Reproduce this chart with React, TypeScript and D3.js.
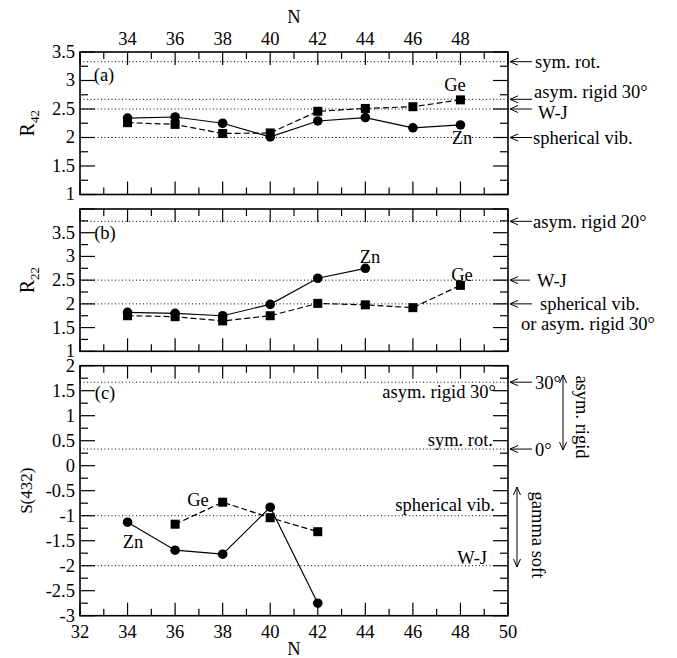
import * as d3 from "d3";

// N values
const nAll = [34, 36, 38, 40, 42, 44, 46, 48];
const nZnB = [34, 36, 38, 40, 42, 44];
const nZnC = [34, 36, 38, 40, 42];
const nGeC = [36, 38, 40, 42];

// panel (a) R42
const znR42 = [2.34, 2.36, 2.25, 2.01, 2.29, 2.35, 2.17, 2.22];
const geR42 = [2.26, 2.23, 2.07, 2.08, 2.46, 2.51, 2.54, 2.66];
// panel (b) R22
const znR22 = [1.82, 1.8, 1.75, 1.99, 2.54, 2.75];
const geR22 = [1.75, 1.73, 1.64, 1.75, 2.01, 1.98, 1.92, 2.39];
// panel (c) S(432)
const znS = [-1.13, -1.69, -1.77, -0.83, -2.75];
const geS = [-1.17, -0.73, -1.04, -1.32];

// reference (dotted) values
const refA = [3.33, 2.67, 2.5, 2.0];
const refB = [3.74, 2.5, 2.0];
const refC = [1.67, 0.333, -1, -2];

const ticksA = [1, 1.5, 2, 2.5, 3, 3.5];
const ticksB = [1, 1.5, 2, 2.5, 3, 3.5];
const ticksC = [-3, -2.5, -2, -1.5, -1, -0.5, 0, 0.5, 1, 1.5, 2];
const xTickLabelsTop = [34, 36, 38, 40, 42, 44, 46, 48];
const xTickLabelsBottom = [32, 34, 36, 38, 40, 42, 44, 46, 48, 50];

const W = 677;
const H = 658;
const FONT = "Liberation Serif, DejaVu Serif, serif";
const FS = 18.5;
const L = 80;
const R = 508;

const x = d3.scaleLinear().domain([32, 50]).range([L, R]);

type Panel = {
  y: d3.ScaleLinear<number, number>;
  top: number;
  bottom: number;
  lo: number;
  hi: number;
  ticks: number[];
};

const pA: Panel = { top: 52, bottom: 194.5, lo: 1, hi: 3.5, ticks: ticksA, y: d3.scaleLinear().domain([1, 3.5]).range([194.5, 52]) };
const pB: Panel = { top: 209, bottom: 351.3, lo: 1, hi: 4, ticks: ticksB, y: d3.scaleLinear().domain([1, 4]).range([351.3, 209]) };
const pC: Panel = { top: 365.7, bottom: 615.7, lo: -3, hi: 2, ticks: ticksC, y: d3.scaleLinear().domain([-3, 2]).range([615.7, 365.7]) };

function Frame({ p, refs }: { p: Panel; refs: number[] }) {
  const xMajor = d3.range(32, 51, 2);
  const xMinor = d3.range(33, 50, 2);
  const yMajor = d3.range(p.lo, p.hi + 0.001, 0.5);
  const yMinor = d3.range(p.lo + 0.25, p.hi, 0.5);
  return (
    <g>
      {refs.map((v, i) => (
        <line key={"r" + i} x1={L} x2={R} y1={p.y(v)} y2={p.y(v)} stroke="#000" strokeWidth={1} strokeDasharray="1,2.5" />
      ))}
      {xMajor.map((v) => (
        <g key={"xm" + v}>
          <line x1={x(v)} x2={x(v)} y1={p.bottom} y2={p.bottom - 13} stroke="#000" strokeWidth={1.2} />
          <line x1={x(v)} x2={x(v)} y1={p.top} y2={p.top + 13} stroke="#000" strokeWidth={1.2} />
        </g>
      ))}
      {xMinor.map((v) => (
        <g key={"xn" + v}>
          <line x1={x(v)} x2={x(v)} y1={p.bottom} y2={p.bottom - 7} stroke="#000" strokeWidth={1.2} />
          <line x1={x(v)} x2={x(v)} y1={p.top} y2={p.top + 7} stroke="#000" strokeWidth={1.2} />
        </g>
      ))}
      {yMajor.map((v) => (
        <g key={"ym" + v}>
          <line x1={L} x2={L + 15} y1={p.y(v)} y2={p.y(v)} stroke="#000" strokeWidth={1.2} />
          <line x1={R} x2={R - 15} y1={p.y(v)} y2={p.y(v)} stroke="#000" strokeWidth={1.2} />
        </g>
      ))}
      {yMinor.map((v) => (
        <g key={"yn" + v}>
          <line x1={L} x2={L + 8} y1={p.y(v)} y2={p.y(v)} stroke="#000" strokeWidth={1.2} />
          <line x1={R} x2={R - 8} y1={p.y(v)} y2={p.y(v)} stroke="#000" strokeWidth={1.2} />
        </g>
      ))}
      {p.ticks.map((v) => (
        <text key={"yl" + v} x={L - 5} y={p.y(v)} dy="0.32em" textAnchor="end" fontSize={FS}>
          {String(v)}
        </text>
      ))}
      <rect x={L} y={p.top} width={R - L} height={p.bottom - p.top} fill="none" stroke="#000" strokeWidth={1.6} />
    </g>
  );
}

function Series({ p, ns, vals, dashed }: { p: Panel; ns: number[]; vals: number[]; dashed: boolean }) {
  const pts: [number, number][] = ns.map((n, i) => [x(n), p.y(vals[i])]);
  const line = d3.line();
  return (
    <g>
      <path d={line(pts) || ""} fill="none" stroke="#000" strokeWidth={1.2} strokeDasharray={dashed ? "6,3" : undefined} />
      {pts.map(([px, py], i) =>
        dashed ? (
          <rect key={i} x={px - 4.5} y={py - 4.5} width={9} height={9} fill="#000" />
        ) : (
          <circle key={i} cx={px} cy={py} r={4.8} fill="#000" />
        )
      )}
    </g>
  );
}

function Arrow({ yv, x2 = 532 }: { yv: number; x2?: number }) {
  const x1 = R + 2;
  return (
    <g stroke="#000" strokeWidth={1} fill="none">
      <line x1={x1} x2={x2} y1={yv} y2={yv} />
      <path d={`M${x1 + 8},${yv - 3.5} L${x1},${yv} L${x1 + 8},${yv + 3.5}`} />
    </g>
  );
}

function VArrow({ xv, y1, y2 }: { xv: number; y1: number; y2: number }) {
  return (
    <g stroke="#000" strokeWidth={1} fill="none">
      <line x1={xv} x2={xv} y1={y1} y2={y2} />
      <path d={`M${xv - 3.5},${y1 + 8} L${xv},${y1} L${xv + 3.5},${y1 + 8}`} />
      <path d={`M${xv - 3.5},${y2 - 8} L${xv},${y2} L${xv + 3.5},${y2 - 8}`} />
    </g>
  );
}

export default function App() {
  return (
    <svg width={W} height={H} style={{ position: "absolute", left: 0, top: 0, background: "#fff", fontFamily: FONT }} fill="#000">
      {/* top axis labels */}
      {xTickLabelsTop.map((v) => (
        <text key={"t" + v} x={x(v)} y={45} textAnchor="middle" fontSize={FS}>
          {v}
        </text>
      ))}
      <text x={294} y={23} textAnchor="middle" fontSize={FS}>N</text>

      {/* panel a */}
      <Frame p={pA} refs={refA} />
      <Series p={pA} ns={nAll} vals={geR42} dashed />
      <Series p={pA} ns={nAll} vals={znR42} dashed={false} />
      <text x={104} y={75} dy="0.35em" textAnchor="middle" fontSize={FS}>(a)</text>
      <text x={455} y={85} dy="0.35em" textAnchor="middle" fontSize={FS}>Ge</text>
      <text x={462} y={138} dy="0.35em" textAnchor="middle" fontSize={FS}>Zn</text>
      <text transform={`translate(34,${(pA.top + pA.bottom) / 2}) rotate(-90)`} textAnchor="middle" fontSize={20}>
        R<tspan fontSize={13} dy={5}>42</tspan>
      </text>
      <Arrow yv={pA.y(3.33)} />
      <text x={535} y={pA.y(3.33)} dy="0.35em" fontSize={FS}>sym. rot.</text>
      <Arrow yv={pA.y(2.67)} />
      <text x={534} y={92} dy="0.35em" fontSize={FS}>asym. rigid 30°</text>
      <Arrow yv={pA.y(2.5)} />
      <text x={538} y={113} dy="0.35em" fontSize={FS}>W-J</text>
      <Arrow yv={pA.y(2.0)} />
      <text x={533} y={pA.y(2.0)} dy="0.35em" fontSize={FS}>spherical vib.</text>

      {/* panel b */}
      <Frame p={pB} refs={refB} />
      <Series p={pB} ns={nAll} vals={geR22} dashed />
      <Series p={pB} ns={nZnB} vals={znR22} dashed={false} />
      <text x={105} y={233} dy="0.35em" textAnchor="middle" fontSize={FS}>(b)</text>
      <text x={370} y={257} dy="0.35em" textAnchor="middle" fontSize={FS}>Zn</text>
      <text x={462} y={275} dy="0.35em" textAnchor="middle" fontSize={FS}>Ge</text>
      <text transform={`translate(34,${(pB.top + pB.bottom) / 2}) rotate(-90)`} textAnchor="middle" fontSize={20}>
        R<tspan fontSize={13} dy={5}>22</tspan>
      </text>
      <Arrow yv={pB.y(3.74)} />
      <text x={533} y={pB.y(3.74)} dy="0.35em" fontSize={FS}>asym. rigid 20°</text>
      <Arrow yv={pB.y(2.5)} x2={530} />
      <text x={537} y={pB.y(2.5)} dy="0.35em" fontSize={FS}>W-J</text>
      <Arrow yv={pB.y(2.0)} x2={532} />
      <text x={540} y={pB.y(2.0)} dy="0.35em" fontSize={FS}>spherical vib.</text>
      <text x={521} y={324} dy="0.35em" fontSize={FS}>or asym. rigid 30°</text>

      {/* panel c */}
      <Frame p={pC} refs={refC} />
      <Series p={pC} ns={nGeC} vals={geS} dashed />
      <Series p={pC} ns={nZnC} vals={znS} dashed={false} />
      <text x={105} y={393} dy="0.35em" textAnchor="middle" fontSize={FS}>(c)</text>
      <text x={198} y={500} dy="0.35em" textAnchor="middle" fontSize={FS}>Ge</text>
      <text x={133} y={542} dy="0.35em" textAnchor="middle" fontSize={FS}>Zn</text>
      <text transform={`translate(32,${(pC.top + pC.bottom) / 2}) rotate(-90)`} textAnchor="middle" fontSize={17}>
        S(432)
      </text>
      <text x={496} y={392} dy="0.35em" textAnchor="end" fontSize={FS}>asym. rigid 30°</text>
      <text x={493} y={440} dy="0.35em" textAnchor="end" fontSize={FS}>sym. rot.</text>
      <text x={495} y={505} dy="0.35em" textAnchor="end" fontSize={FS}>spherical vib.</text>
      <text x={487} y={558} dy="0.35em" textAnchor="end" fontSize={FS}>W-J</text>
      <Arrow yv={pC.y(1.67)} />
      <text x={535} y={pC.y(1.67)} dy="0.35em" fontSize={FS}>30°</text>
      <Arrow yv={pC.y(0.333)} />
      <text x={535} y={pC.y(0.333)} dy="0.35em" fontSize={FS}>0°</text>
      <VArrow xv={563} y1={375} y2={450} />
      <text transform={`translate(582,${417}) rotate(90)`} textAnchor="middle" dy="0.35em" fontSize={FS}>asym. rigid</text>
      <VArrow xv={517} y1={487} y2={567} />
      <text transform={`translate(538,${535}) rotate(90)`} textAnchor="middle" dy="0.35em" fontSize={FS}>gamma soft</text>

      {/* bottom axis */}
      {xTickLabelsBottom.map((v) => (
        <text key={"b" + v} x={x(v)} y={638} textAnchor="middle" fontSize={FS}>
          {v}
        </text>
      ))}
      <text x={294} y={655} textAnchor="middle" fontSize={FS}>N</text>
    </svg>
  );
}
